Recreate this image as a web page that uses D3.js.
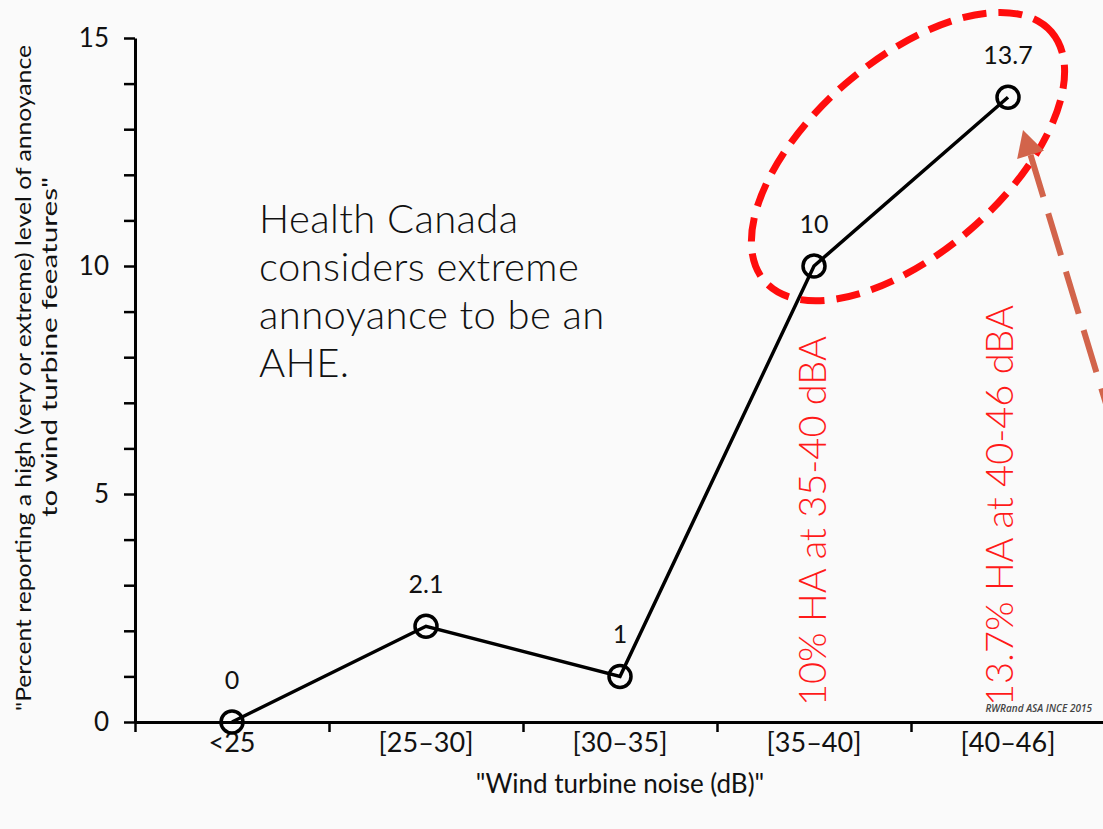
<!DOCTYPE html>
<html><head><meta charset="utf-8">
<script src="https://cdn.jsdelivr.net/npm/d3@7/dist/d3.min.js"></script>
<style>
html,body{margin:0;padding:0;background:#fafafa;}
svg{display:block;}
</style></head>
<body>
<svg id="chart" width="1103" height="829"></svg>
<script>
const categories = ["<25", "[25\u201330]", "[30\u201335]", "[35\u201340]", "[40\u201346]"];
const values = [0, 2.1, 1, 10, 13.7];
const valueLabels = ["0", "2.1", "1", "10", "13.7"];
const yTicks = [0,1,2,3,4,5,6,7,8,9,10,11,12,13,14,15];
const yTickLabels = [0, 5, 10, 15];
const xTitle = "\"Wind turbine noise (dB)\"";
const yTitle = ["\"Percent reporting a high (very or extreme) level of annoyance", "to wind turbine feeatures\""];
const noteLines = ["Health Canada", "considers extreme", "annoyance to be an", "AHE."];
const redNotes = ["10% HA at 35-40 dBA", "13.7% HA at 40-46 dBA"];
const credit = "RWRand ASA INCE 2015";

const svg = d3.select("#chart");
const W = 1103, H = 829;
svg.append("rect").attr("width", W).attr("height", H).attr("fill", "#fafafa");

const x = d3.scaleBand().domain(categories).range([135, 1105]);
const xEdge = d3.scaleLinear().domain([0, categories.length]).range([135, 1105]);
const y = d3.scaleLinear().domain([0, 15]).range([722, 38]);
const cx = c => x(c) + x.bandwidth() / 2;

const FONT = "Lato, 'Open Sans', sans-serif";

// Y axis
const yAxis = svg.append("g").attr("transform", "translate(135,0)")
  .call(d3.axisLeft(y).tickValues(yTicks).tickSize(11).tickSizeOuter(0).tickPadding(15)
    .tickFormat(d => yTickLabels.includes(d) ? d : ""));
yAxis.select(".domain").attr("stroke", "#000").attr("stroke-width", 3);
yAxis.selectAll(".tick line").attr("stroke", "#000").attr("stroke-width", 2.5);
yAxis.selectAll(".tick text").attr("font-family", FONT).attr("font-size", 26).attr("fill", "#111");

// X axis line + ticks at band edges
const xAxisEdges = svg.append("g").attr("transform", "translate(0,722)")
  .call(d3.axisBottom(xEdge).tickValues(d3.range(0, categories.length + 1)).tickSize(10).tickSizeOuter(0).tickFormat(""));
xAxisEdges.select(".domain").attr("stroke", "#000").attr("stroke-width", 3);
xAxisEdges.selectAll(".tick line").attr("stroke", "#000").attr("stroke-width", 2.5);

const xAxis = svg.append("g").attr("transform", "translate(0,722)")
  .call(d3.axisBottom(x).tickSize(0).tickPadding(11));
xAxis.select(".domain").remove();
xAxis.selectAll(".tick text").attr("font-family", FONT).attr("font-size", 27).attr("fill", "#111");

// Axis titles
svg.append("text").attr("x", (135 + 1105) / 2).attr("y", 793).attr("text-anchor", "middle")
  .attr("font-family", FONT).attr("font-size", 26).attr("fill", "#111").text(xTitle);

// Y title: two rotated lines
const yTitlePos = [{c: 378, b: 31, len: 666}, {c: 347, b: 57, len: 340}];
yTitle.forEach((t, i) => {
  const p = yTitlePos[i];
  svg.append("text").attr("transform", `translate(${p.b},${p.c}) rotate(-90)`)
    .attr("text-anchor", "middle")
    .attr("font-family", FONT).attr("font-size", 21).attr("fill", "#111")
    .attr("textLength", p.len).attr("lengthAdjust", "spacingAndGlyphs").text(t);
});

// Line and markers
const pts = categories.map((c, i) => ({c, v: values[i], label: valueLabels[i]}));
svg.append("path").datum(pts)
  .attr("d", d3.line().x(d => cx(d.c)).y(d => y(d.v)))
  .attr("fill", "none").attr("stroke", "#000").attr("stroke-width", 3.5);
svg.selectAll("circle.pt").data(pts).join("circle").attr("class", "pt")
  .attr("cx", d => cx(d.c)).attr("cy", d => y(d.v)).attr("r", 11)
  .attr("fill", "none").attr("stroke", "#000").attr("stroke-width", 3.5);
svg.selectAll("text.vl").data(pts).join("text").attr("class", "vl")
  .attr("x", d => cx(d.c)).attr("y", d => y(d.v) - 33).attr("text-anchor", "middle")
  .attr("font-family", FONT).attr("font-size", 25).attr("fill", "#111").text(d => d.label);

// Note text
noteLines.forEach((t, i) => {
  svg.append("text").attr("x", 259).attr("y", 233 + i * 48)
    .attr("font-family", FONT).attr("font-weight", 300).attr("font-size", 40)
    .attr("letter-spacing", 0.4).attr("fill", "#111").text(t);
});

// Red rotated notes
[[3, 12, 706], [4, 5, 706]].forEach(([ci, dx, yb], i) => {
  svg.append("text")
    .attr("transform", `translate(${cx(categories[ci]) + dx},${yb}) rotate(-90)`)
    .attr("font-family", FONT).attr("font-weight", 300).attr("font-size", 38).attr("fill", "#ff1a1a")
    .text(redNotes[i]);
});

// Credit
svg.append("text").attr("x", 1092).attr("y", 712).attr("text-anchor", "end")
  .attr("font-family", "'Open Sans', sans-serif").attr("font-style", "italic").attr("font-weight", 600)
  .attr("font-size", 10).attr("fill", "#444").text(credit);

// Dashed ellipse around last two points
const ecx = (cx(categories[3]) + cx(categories[4])) / 2 - 3, ecy = y(12.4);
svg.append("ellipse").attr("cx", 0).attr("cy", 0).attr("rx", 190).attr("ry", 96)
  .attr("transform", `translate(${ecx},${ecy}) rotate(-41)`)
  .attr("fill", "none").attr("stroke", "#ff0d0d").attr("stroke-width", 7).attr("stroke-dasharray", "24 12");

// Arrow
const tip = [1023, 130];
const dir = [0.29, 0.957];
const baseMid = [tip[0] + dir[0] * 26, tip[1] + dir[1] * 26];
svg.append("line").attr("x1", baseMid[0]).attr("y1", baseMid[1])
  .attr("x2", baseMid[0] + dir[0] * 800).attr("y2", baseMid[1] + dir[1] * 800)
  .attr("stroke", "#d2644b").attr("stroke-width", 6).attr("stroke-dasharray", "44 17");
const perp = [dir[1], -dir[0]];
svg.append("path").attr("d", `M${tip[0]},${tip[1]} L${baseMid[0] + perp[0] * 14},${baseMid[1] + perp[1] * 14} L${baseMid[0] - perp[0] * 14},${baseMid[1] - perp[1] * 14} Z`)
  .attr("fill", "#d2644b");
</script>
</body></html>
